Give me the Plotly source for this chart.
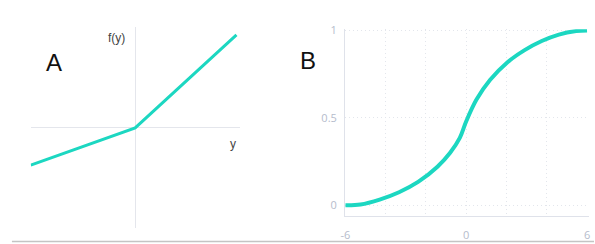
import plotly.graph_objects as go

W, H = 595, 244

# Panel A: piecewise-linear activation
x_a = [-1.0, 0.0, 0.97]
y_a = [-0.37, 0.0, 0.925]

# Panel B: S-shaped curve
x_b = [-6, -5.25, -4.3, -3.34, -2.39, -1.43, -0.8, -0.32, 0, 0.51, 1.19, 2.05, 2.9, 3.75, 4.6, 5.46, 6]
y_b = [0, 0.004, 0.032, 0.074, 0.133, 0.22, 0.30, 0.385, 0.48, 0.604, 0.717, 0.818, 0.887, 0.939, 0.976, 0.996, 1.0]

x_b_ticks = [-6, 0, 6]
x_b_labels = ["-6", "0", "6"]
x_b_grid = [-4, -2, 0, 2, 4]
y_b_ticks = [0, 0.5, 1]
y_b_labels = ["0", "0.5", "1"]

TEAL = "#1cd7c1"
AXIS = "#dfe2ea"
GRID = "#e3e6ec"
TICK = "#b5bccc"
DOT = "1px,3px"


def fx(px):
    return px / W


def fy(py):
    return 1 - py / H


fig = go.Figure()
fig.add_trace(go.Scatter(x=x_a, y=y_a, mode="lines", line=dict(color=TEAL, width=3),
                         xaxis="x", yaxis="y", showlegend=False, hoverinfo="skip"))
fig.add_trace(go.Scatter(x=x_b, y=y_b, mode="lines", line=dict(color=TEAL, width=4, shape="spline", smoothing=1.0),
                         xaxis="x2", yaxis="y2", showlegend=False, hoverinfo="skip"))

fig.update_layout(
    width=W, height=H,
    margin=dict(l=0, r=0, t=0, b=0),
    paper_bgcolor="white", plot_bgcolor="white",
    xaxis=dict(domain=[fx(26), fx(237)], range=[-1, 1], showgrid=False, showticklabels=False,
               zeroline=True, zerolinecolor="#e4e6ec", zerolinewidth=1, showline=False, fixedrange=True),
    yaxis=dict(domain=[fy(228), fy(21)], range=[-1, 1], showgrid=False, showticklabels=False,
               zeroline=True, zerolinecolor="#e4e6ec", zerolinewidth=1, showline=False, fixedrange=True),
    xaxis2=dict(domain=[fx(343.5), fx(590)], range=[-6.02, 6.1], anchor="y2",
                tickmode="array", tickvals=x_b_ticks, ticktext=x_b_labels,
                showgrid=False, zeroline=False, showline=True, linecolor=AXIS, linewidth=1,
                ticks="outside", ticklen=9, tickcolor="rgba(0,0,0,0)",
                tickfont=dict(family="Open Sans", size=11, color=TICK),
                minor=dict(tickmode="array", tickvals=x_b_grid, showgrid=True, gridcolor=GRID,
                           griddash=DOT, gridwidth=1, ticks=""),
                fixedrange=True),
    yaxis2=dict(domain=[fy(215), fy(23)], range=[-0.061, 1.006], anchor="x2",
                tickmode="array", tickvals=y_b_ticks, ticktext=y_b_labels,
                showgrid=True, gridcolor=GRID, griddash=DOT, gridwidth=1,
                zeroline=False, showline=True, linecolor=AXIS, linewidth=1,
                ticks="outside", ticklen=5, tickcolor="rgba(0,0,0,0)",
                tickfont=dict(family="Open Sans", size=11, color=TICK),
                fixedrange=True),
    annotations=[
        dict(text="A", x=fx(49), y=fy(57), xref="paper", yref="paper", showarrow=False,
             font=dict(family="Liberation Sans", size=24, color="#111"), xanchor="center", yanchor="middle"),
        dict(text="B", x=fx(306), y=fy(55), xref="paper", yref="paper", showarrow=False,
             font=dict(family="Liberation Sans Narrow, Liberation Sans", size=24, color="#111"),
             xanchor="center", yanchor="middle"),
        dict(text="f(y)", x=fx(113), y=fy(32), xref="paper", yref="paper", showarrow=False,
             font=dict(family="Liberation Sans", size=12, color="#444"), xanchor="center", yanchor="middle"),
        dict(text="y", x=fx(230), y=fy(141), xref="paper", yref="paper", showarrow=False,
             font=dict(family="Liberation Sans", size=12, color="#444"), xanchor="center", yanchor="middle"),
    ],
    shapes=[
        dict(type="line", xref="paper", yref="paper", x0=fx(7), x1=1, y0=fy(241.5), y1=fy(241.5),
             line=dict(color="#c4c4c4", width=1.5)),
    ],
)

# Remove the browser's default 8px body margin so the figure fills the window exactly.
fig.write_html("out.html",
               config={"displayModeBar": False, "staticPlot": True},
               post_script="document.body.style.margin='0';document.body.style.overflow='hidden';")
